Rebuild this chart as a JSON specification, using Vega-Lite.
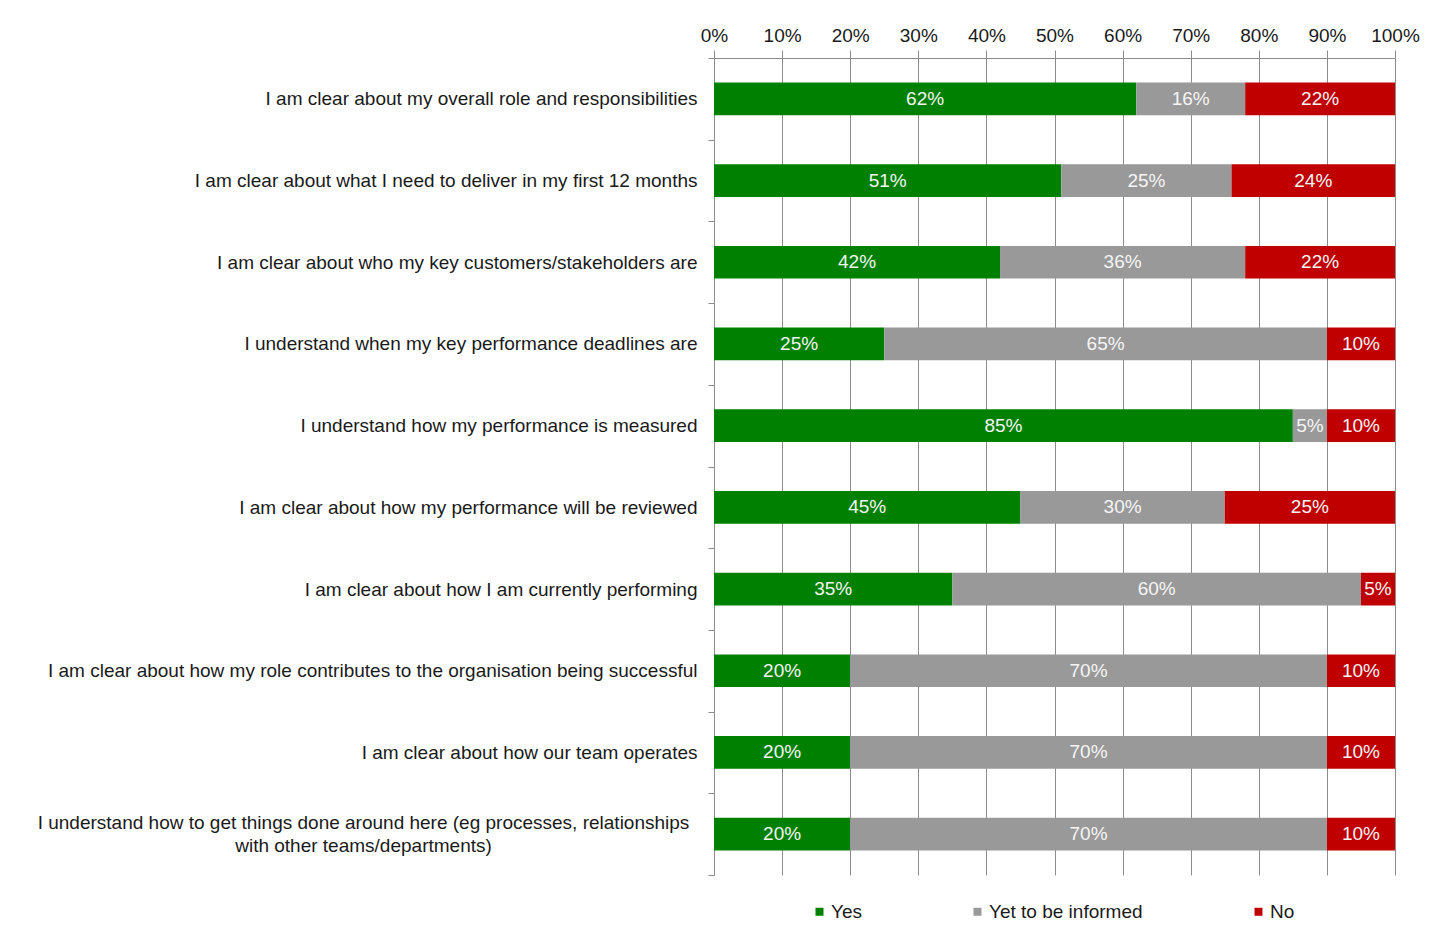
{
  "$schema": "https://vega.github.io/schema/vega-lite/v6.json",
  "width": 681,
  "height": 817,
  "autosize": {"type": "none"},
  "padding": {"left": 714, "top": 58, "right": 59, "bottom": 52},
  "background": "white",
  "config": {
    "font": "Liberation Sans, Arial, sans-serif",
    "view": {"stroke": null}
  },
  "data": {
    "values": [
      {"q": "I am clear about my overall role and responsibilities", "r": "Yes", "o": 1, "v": 0.62},
      {"q": "I am clear about my overall role and responsibilities", "r": "Yet to be informed", "o": 2, "v": 0.16},
      {"q": "I am clear about my overall role and responsibilities", "r": "No", "o": 3, "v": 0.22},
      {"q": "I am clear about what I need to deliver in my first 12 months", "r": "Yes", "o": 1, "v": 0.51},
      {"q": "I am clear about what I need to deliver in my first 12 months", "r": "Yet to be informed", "o": 2, "v": 0.25},
      {"q": "I am clear about what I need to deliver in my first 12 months", "r": "No", "o": 3, "v": 0.24},
      {"q": "I am clear about who my key customers/stakeholders are", "r": "Yes", "o": 1, "v": 0.42},
      {"q": "I am clear about who my key customers/stakeholders are", "r": "Yet to be informed", "o": 2, "v": 0.36},
      {"q": "I am clear about who my key customers/stakeholders are", "r": "No", "o": 3, "v": 0.22},
      {"q": "I understand when my key performance deadlines are", "r": "Yes", "o": 1, "v": 0.25},
      {"q": "I understand when my key performance deadlines are", "r": "Yet to be informed", "o": 2, "v": 0.65},
      {"q": "I understand when my key performance deadlines are", "r": "No", "o": 3, "v": 0.10},
      {"q": "I understand how my performance is measured", "r": "Yes", "o": 1, "v": 0.85},
      {"q": "I understand how my performance is measured", "r": "Yet to be informed", "o": 2, "v": 0.05},
      {"q": "I understand how my performance is measured", "r": "No", "o": 3, "v": 0.10},
      {"q": "I am clear about how my performance will be reviewed", "r": "Yes", "o": 1, "v": 0.45},
      {"q": "I am clear about how my performance will be reviewed", "r": "Yet to be informed", "o": 2, "v": 0.30},
      {"q": "I am clear about how my performance will be reviewed", "r": "No", "o": 3, "v": 0.25},
      {"q": "I am clear about how I am currently performing", "r": "Yes", "o": 1, "v": 0.35},
      {"q": "I am clear about how I am currently performing", "r": "Yet to be informed", "o": 2, "v": 0.60},
      {"q": "I am clear about how I am currently performing", "r": "No", "o": 3, "v": 0.05},
      {"q": "I am clear about how my role contributes to the organisation being successful", "r": "Yes", "o": 1, "v": 0.20},
      {"q": "I am clear about how my role contributes to the organisation being successful", "r": "Yet to be informed", "o": 2, "v": 0.70},
      {"q": "I am clear about how my role contributes to the organisation being successful", "r": "No", "o": 3, "v": 0.10},
      {"q": "I am clear about how our team operates", "r": "Yes", "o": 1, "v": 0.20},
      {"q": "I am clear about how our team operates", "r": "Yet to be informed", "o": 2, "v": 0.70},
      {"q": "I am clear about how our team operates", "r": "No", "o": 3, "v": 0.10},
      {"q": "I understand how to get things done around here (eg processes, relationships|with other teams/departments)", "r": "Yes", "o": 1, "v": 0.20},
      {"q": "I understand how to get things done around here (eg processes, relationships|with other teams/departments)", "r": "Yet to be informed", "o": 2, "v": 0.70},
      {"q": "I understand how to get things done around here (eg processes, relationships|with other teams/departments)", "r": "No", "o": 3, "v": 0.10}
    ]
  },
  "transform": [
    {"stack": "v", "groupby": ["q"], "sort": [{"field": "o", "order": "ascending"}], "as": ["v0", "v1"]},
    {"calculate": "(datum.v0 + datum.v1) / 2", "as": "vm"}
  ],
  "encoding": {
    "y": {
      "field": "q",
      "type": "nominal",
      "sort": null,
      "title": null,
      "scale": {"paddingInner": 0, "paddingOuter": 0},
      "axis": {
        "orient": "left",
        "labelExpr": "split(datum.label, '|')",
        "labelFontSize": 19,
        "labelColor": "#1a1a1a",
        "labelLimit": 900,
        "labelAlign": {"condition": {"test": "isString(datum.value) && indexof(datum.value, '|') >= 0", "value": "center"}, "value": "right"},
        "labelPadding": {"condition": {"test": "isString(datum.value) && indexof(datum.value, '|') >= 0", "value": 345}, "value": 11},
        "labelOffset": {"condition": {"test": "isString(datum.value) && indexof(datum.value, '|') >= 0", "value": -12}, "value": 0},
        "labelLineHeight": 23,
        "tickBand": "extent",
        "tickSize": 6,
        "tickColor": "#8c8c8c",
        "domainColor": "#8c8c8c",
        "grid": false
      }
    }
  },
  "layer": [
    {
      "mark": {"type": "bar", "height": {"band": 0.4}},
      "encoding": {
        "x": {
          "field": "v0",
          "type": "quantitative",
          "scale": {"domain": [0, 1], "nice": false},
          "title": null,
          "axis": {
            "orient": "top",
            "values": [0, 0.1, 0.2, 0.3, 0.4, 0.5, 0.6, 0.7, 0.8, 0.9, 1],
            "format": ".0%",
            "labelFlush": false,
            "labelOverlap": false,
            "labelFontSize": 19,
            "labelColor": "#1a1a1a",
            "labelPadding": 5,
            "tickSize": 8,
            "tickColor": "#8c8c8c",
            "domainColor": "#8c8c8c",
            "grid": true,
            "gridColor": "#8c8c8c",
            "gridOpacity": 1
          }
        },
        "x2": {"field": "v1"},
        "color": {
          "field": "r",
          "type": "nominal",
          "sort": ["Yes", "Yet to be informed", "No"],
          "scale": {"domain": ["Yes", "Yet to be informed", "No"], "range": ["#008000", "#999999", "#c00000"]},
          "legend": {
            "title": null,
            "orient": "none",
            "direction": "horizontal",
            "legendX": 96,
            "legendY": 844,
            "symbolType": "square",
            "symbolSize": 64,
            "symbolStrokeWidth": 0,
            "labelFontSize": 19,
            "labelColor": "#1a1a1a",
            "labelOffset": 2,
            "columnPadding": 106
          }
        }
      }
    },
    {
      "mark": {"type": "text", "color": "#f5f5f5", "fontSize": 19, "baseline": "middle"},
      "encoding": {
        "x": {"field": "vm", "type": "quantitative"},
        "text": {"field": "v", "type": "quantitative", "format": ".0%"}
      }
    }
  ]
}
